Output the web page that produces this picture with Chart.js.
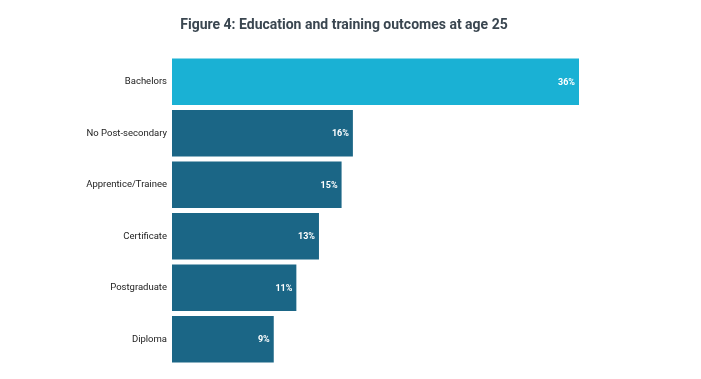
<!DOCTYPE html>
<html>
<head>
<meta charset="utf-8">
<script src="https://cdn.jsdelivr.net/npm/chart.js@4"></script>
<style>
html,body{margin:0;padding:0;background:#fff;}
#wrap{width:701px;height:379px;position:relative;}
</style>
</head>
<body>
<div id="wrap"><canvas id="c" width="701" height="379"></canvas></div>
<script>
const titleText = "Figure 4: Education and training outcomes at age 25";
const categories = ["Bachelors", "No Post-secondary", "Apprentice/Trainee", "Certificate", "Postgraduate", "Diploma"];
const values = [36, 16, 15, 13, 11, 9];
const barColors = ["#1ab1d4", "#1b6686", "#1b6686", "#1b6686", "#1b6686", "#1b6686"];

const valueLabels = {
  id: 'valueLabels',
  afterDatasetsDraw(chart) {
    const ctx = chart.ctx;
    const meta = chart.getDatasetMeta(0);
    ctx.save();
    ctx.font = "bold 9px Roboto";
    ctx.fillStyle = "#ffffff";
    ctx.textAlign = "right";
    ctx.textBaseline = "middle";
    meta.data.forEach((bar, i) => {
      ctx.fillText(values[i] + "%", bar.x - 4, bar.y + 0.5);
    });
    ctx.restore();
  }
};
const titlePlugin = {
  id: 'customTitle',
  afterDraw(chart) {
    const ctx = chart.ctx;
    ctx.save();
    ctx.font = "bold 14px Roboto";
    ctx.fillStyle = "#3a4650";
    ctx.textAlign = "center";
    ctx.textBaseline = "middle";
    ctx.fillText(titleText, 344, 25.5);
    ctx.restore();
  }
};

new Chart(document.getElementById('c'), {
  type: 'bar',
  data: {
    labels: categories,
    datasets: [{
      data: values,
      backgroundColor: barColors,
      borderWidth: 0,
      barPercentage: 0.9,
      categoryPercentage: 1.0
    }]
  },
  options: {
    indexAxis: 'y',
    responsive: false,
    animation: false,
    devicePixelRatio: 1,
    layout: { padding: { top: 56, bottom: 14, left: 0, right: 122 } },
    plugins: { legend: { display: false }, title: { display: false }, tooltip: { enabled: false } },
    scales: {
      x: { display: false, min: 0, max: 36 },
      y: {
        grid: { display: false, drawTicks: false },
        border: { display: false },
        ticks: { color: "#222222", font: { family: "Roboto", size: 9.5 }, padding: 5 },
        afterFit(scale) { scale.width = 172; }
      }
    }
  },
  plugins: [valueLabels, titlePlugin]
});
</script>
</body>
</html>
